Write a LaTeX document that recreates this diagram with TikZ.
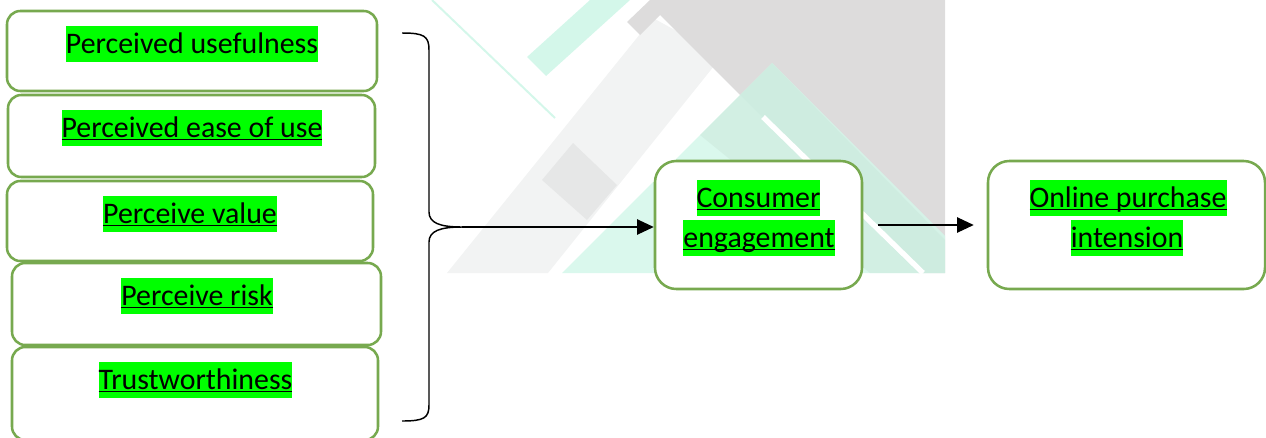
\documentclass[tikz,border=0pt]{standalone}
\usepackage{fontspec}
\setmainfont{Carlito}
\usetikzlibrary{arrows.meta}
\definecolor{boxgreen}{HTML}{77A94F}
\definecolor{hlgreen}{HTML}{00FF00}
\definecolor{mint}{HTML}{D4F7EA}
\definecolor{mintdeep}{HTML}{C9E8DB}
\definecolor{fieldgray}{HTML}{DDDCDC}
\definecolor{bandgray}{HTML}{F2F3F3}
\definecolor{squaregray}{HTML}{E6E7E7}
% underlined word: rule a little below the baseline
\newcommand\ulword[1]{\setbox0=\hbox{#1}\rlap{\rule[-2.5pt]{\wd0}{1.3pt}}\box0}
\tikzset{
  px/.style 2 args={minimum width=#1*0.75pt, minimum height=#2*0.75pt},
  factor/.style={draw=boxgreen, line width=1.9pt, fill=white, rounded corners=10pt, inner sep=0pt},
  outcome/.style={factor, rounded corners=16pt},
  hl/.style={fill=hlgreen, inner xsep=0pt, inner ysep=0pt, text height=20.25pt,
             text depth=6.75pt, anchor=base, font=\fontsize{22.4pt}{30pt}\selectfont},
  flow/.style={line width=1pt, -{Triangle[length=12.5pt,width=11.5pt]}},
}
\begin{document}
\begin{tikzpicture}[x=0.75pt,y=-0.75pt]
\useasboundingbox (0,0) rectangle (1266,437);

% faint geometric backdrop
\fill[bandgray] (447,273) -- (653,18) -- (722,56) -- (548,273) -- cycle;
\fill[squaregray] (573,143) -- (617,185) -- (587,220) -- (542,180) -- cycle;
\fill[fieldgray] (627,22) -- (650,0) -- (945,0) -- (945,273) -- (918,273) -- (660,15) -- (640,35) -- cycle;
\fill[mint] (527,57) -- (546,76) -- (630,0) -- (590,0) -- cycle;
\draw[mint, line width=1.5pt] (432,0) -- (555,118);
\fill[mint, opacity=0.85] (772,63) -- (562,273) -- (945,273) -- (945,236) -- cycle;
\fill[mintdeep, opacity=0.5] (772,63) -- (700,135) -- (870,273) -- (945,273) -- (945,240) -- cycle;
\draw[white, line width=4pt] (763,117) -- (923,273);

% factor boxes
\node[factor, px={370}{80}] (pu)   at (192,51)    {};
\node[factor, px={367}{82}] (peou) at (191.5,136) {};
\node[factor, px={366}{80}] (pv)   at (190,221)   {};
\node[factor, px={369}{82}] (pr)   at (196.5,304) {};
\node[factor, px={366}{93}] (tw)   at (195,393.5) {};

\node[hl] (tpu)   at (192,53)   {Perceived usefulness};
\node[hl] (tpeou) at (192,137)  {\ulword{Perceived ease of use}};
\node[hl] (tpv)   at (190,223)  {\ulword{Perceive value}};
\node[hl] (tpr)   at (197,305)  {\ulword{Perceive risk}};
\node[hl] (ttw)   at (195.5,389) {\ulword{Trustworthiness}};

% mediator and outcome
\node[outcome, px={207}{128}] (ce)  at (758.5,225)  {};
\node[outcome, px={277}{128}] (opi) at (1126.5,225) {};

\node[hl] (tce1)  at (758.5,207) {\ulword{Consumer}\ };
\node[hl] (tce2)  at (759,247)   {\ulword{engagement}};
\node[hl] (topi1) at (1128,207)  {\ulword{Online purchase}\ };
\node[hl] (topi2) at (1127,247)  {\ulword{intension}};

% grouping brace
\coordinate (btop) at (402,33);
\coordinate (btip) at (462,227);
\coordinate (bbot) at (402,421);
\draw[line width=1.1pt]
  (btop) .. controls (424,33) and (429,36) .. (429,50) -- (429,212)
  .. controls (429,223) and (440,227) .. (btip)
  .. controls (440,227) and (429,231) .. (429,242) -- (429,405)
  .. controls (429,418) and (424,421) .. (bbot);

% connectors
\draw[flow] (btip) -- (btip -| ce.west);
\draw[flow, shorten <=11pt, shorten >=9.75pt] (ce.east) -- (opi.west);
\end{tikzpicture}
\end{document}
